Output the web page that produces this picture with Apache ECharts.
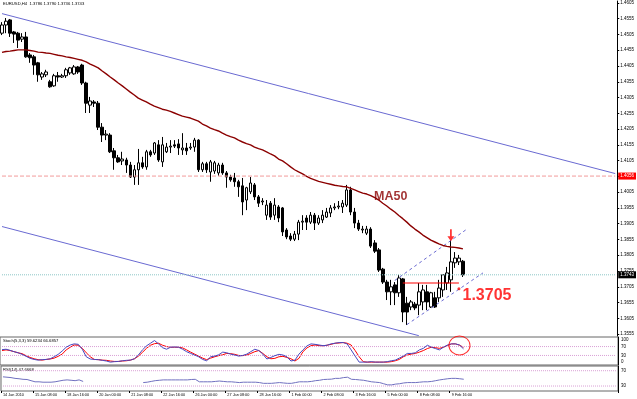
<!DOCTYPE html>
<html>
<head>
<meta charset="utf-8">
<title>EURUSD,H4</title>
<script src="https://cdn.jsdelivr.net/npm/echarts@6/dist/echarts.min.js"></script>
<style>
html, body { margin: 0; padding: 0; background: #fff; }
#chart { width: 637px; height: 399px; }
</style>
</head>
<body>
<div id="chart"></div>
<script>
// H4 bars, [open, close, low, high]
var candles = [
  [1.4509,1.4535,1.4503,1.4544],[1.4535,1.4547,1.4509,1.4557],[1.4551,1.4509,1.4497,1.4554],[1.4513,1.4506,1.4478,1.4516],
  [1.4509,1.4487,1.4462,1.4513],[1.4490,1.4497,1.4481,1.4509],[1.4497,1.4434,1.4431,1.4513],[1.4440,1.4431,1.4415,1.4446],
  [1.4434,1.4408,1.4377,1.4440],[1.4415,1.4377,1.4355,1.4418],[1.4370,1.4380,1.4361,1.4386],[1.4377,1.4386,1.4370,1.4393],
  [1.4355,1.4339,1.4336,1.4361],[1.4342,1.4374,1.4339,1.4380],[1.4374,1.4370,1.4355,1.4386],[1.4370,1.4374,1.4367,1.4380],
  [1.4374,1.4393,1.4367,1.4399],[1.4383,1.4399,1.4377,1.4402],[1.4380,1.4402,1.4377,1.4408],[1.4402,1.4386,1.4380,1.4405],
  [1.4408,1.4351,1.4345,1.4412],[1.4351,1.4287,1.4256,1.4355],[1.4281,1.4294,1.4256,1.4307],[1.4291,1.4287,1.4275,1.4297],
  [1.4287,1.4211,1.4202,1.4294],[1.4211,1.4186,1.4164,1.4224],[1.4186,1.4189,1.4170,1.4202],[1.4186,1.4133,1.4129,1.4192],
  [1.4136,1.4114,1.4076,1.4145],[1.4114,1.4101,1.4098,1.4123],[1.4104,1.4110,1.4091,1.4133],[1.4107,1.4091,1.4066,1.4114],
  [1.4091,1.4053,1.4050,1.4101],[1.4053,1.4076,1.4028,1.4091],[1.4076,1.4098,1.4028,1.4142],[1.4098,1.4085,1.4079,1.4117],
  [1.4085,1.4133,1.4076,1.4139],[1.4133,1.4123,1.4117,1.4139],[1.4129,1.4161,1.4123,1.4164],[1.4155,1.4107,1.4101,1.4170],
  [1.4101,1.4155,1.4085,1.4180],[1.4133,1.4148,1.4129,1.4161],[1.4148,1.4151,1.4129,1.4170],[1.4155,1.4151,1.4145,1.4170],
  [1.4158,1.4145,1.4123,1.4173],[1.4139,1.4145,1.4123,1.4192],[1.4145,1.4136,1.4123,1.4161],[1.4145,1.4148,1.4139,1.4161],
  [1.4148,1.4170,1.4133,1.4177],[1.4170,1.4076,1.4069,1.4173],[1.4076,1.4095,1.4069,1.4101],[1.4095,1.4076,1.4066,1.4101],
  [1.4069,1.4101,1.4038,1.4107],[1.4072,1.4098,1.4063,1.4104],[1.4066,1.4091,1.4057,1.4098],[1.4091,1.4066,1.4060,1.4098],
  [1.4066,1.4053,1.4019,1.4072],[1.4053,1.4044,1.4038,1.4060],[1.4050,1.4038,1.4022,1.4066],[1.4038,1.4022,1.3990,1.4044],
  [1.4025,1.3974,1.3932,1.4050],[1.3980,1.4019,1.3948,1.4022],[1.4006,1.4034,1.3999,1.4053],[1.4028,1.3990,1.3980,1.4034],
  [1.3990,1.3970,1.3958,1.3996],[1.3974,1.3977,1.3964,1.3986],[1.3932,1.3964,1.3917,1.3980],[1.3970,1.3926,1.3917,1.3977],
  [1.3932,1.3964,1.3917,1.3986],[1.3958,1.3923,1.3910,1.3964],[1.3955,1.3879,1.3866,1.3958],[1.3885,1.3863,1.3856,1.3891],
  [1.3866,1.3856,1.3850,1.3875],[1.3856,1.3872,1.3850,1.3882],[1.3872,1.3910,1.3853,1.3917],[1.3910,1.3913,1.3885,1.3932],
  [1.3923,1.3910,1.3885,1.3932],[1.3910,1.3932,1.3904,1.3942],[1.3932,1.3907,1.3885,1.3939],[1.3907,1.3923,1.3901,1.3932],
  [1.3917,1.3932,1.3907,1.3948],[1.3926,1.3942,1.3923,1.3955],[1.3939,1.3955,1.3926,1.3964],[1.3955,1.3958,1.3948,1.3970],
  [1.3958,1.3961,1.3951,1.3977],[1.3958,1.3970,1.3939,1.3980],[1.3964,1.4012,1.3958,1.4028],[1.4012,1.3942,1.3932,1.4022],
  [1.3942,1.3907,1.3891,1.3955],[1.3907,1.3888,1.3882,1.3917],[1.3885,1.3888,1.3875,1.3898],[1.3875,1.3888,1.3869,1.3898],
  [1.3888,1.3834,1.3828,1.3894],[1.3844,1.3818,1.3812,1.3853],[1.3822,1.3758,1.3752,1.3828],[1.3761,1.3720,1.3714,1.3765],
  [1.3720,1.3689,1.3663,1.3727],[1.3689,1.3705,1.3647,1.3727],[1.3711,1.3686,1.3647,1.3720],[1.3686,1.3733,1.3673,1.3743],
  [1.3730,1.3625,1.3593,1.3733],[1.3653,1.3625,1.3584,1.3673],[1.3641,1.3657,1.3631,1.3663],[1.3650,1.3638,1.3631,1.3657],
  [1.3647,1.3689,1.3615,1.3717],[1.3657,1.3695,1.3631,1.3711],[1.3689,1.3657,1.3631,1.3711],[1.3641,1.3686,1.3638,1.3689],
  [1.3670,1.3641,1.3638,1.3689],[1.3670,1.3701,1.3657,1.3727],[1.3695,1.3743,1.3673,1.3743],[1.3717,1.3749,1.3695,1.3768],
  [1.3727,1.3784,1.3689,1.3853],[1.3781,1.3796,1.3765,1.3815],[1.3784,1.3796,1.3774,1.3806],[1.3786,1.3743,1.3736,1.3790]
];

var ma50 = [
  1.4448,1.4451,1.4452,1.4454,1.4456,1.4456,1.4456,1.4454,1.4452,1.4449,
  1.4448,1.4446,1.4445,1.4442,1.4439,1.4437,1.4434,1.4432,1.4429,1.4426,
  1.4423,1.4418,1.4411,1.4405,1.4399,1.4389,1.4380,1.4370,1.4361,1.4351,
  1.4342,1.4332,1.4322,1.4313,1.4303,1.4297,1.4291,1.4284,1.4278,1.4273,
  1.4268,1.4265,1.4261,1.4256,1.4251,1.4246,1.4243,1.4240,1.4235,1.4230,
  1.4221,1.4215,1.4208,1.4203,1.4199,1.4192,1.4186,1.4181,1.4177,1.4170,
  1.4164,1.4159,1.4155,1.4148,1.4143,1.4139,1.4133,1.4126,1.4120,1.4110,
  1.4104,1.4095,1.4085,1.4076,1.4069,1.4063,1.4055,1.4049,1.4044,1.4039,
  1.4036,1.4033,1.4030,1.4027,1.4025,1.4023,1.4022,1.4017,1.4012,1.4007,
  1.4002,1.3999,1.3994,1.3988,1.3980,1.3970,1.3961,1.3951,1.3942,1.3931,
  1.3921,1.3910,1.3898,1.3888,1.3879,1.3869,1.3861,1.3853,1.3847,1.3841,
  1.3836,1.3833,1.3831,1.3830,1.3828,1.3825
];

var stochMain = [
  56,58,53,47,42,35,26,17,12,9,
  11,12,15,24,35,50,67,77,82,80,
  58,24,14,12,11,8,5,0,2,3,
  6,8,9,15,32,55,73,85,97,82,
  65,58,67,68,67,58,47,39,32,24,
  12,6,24,27,33,45,42,36,32,27,
  30,36,47,58,52,36,14,21,29,35,
  32,24,5,9,36,55,73,82,80,77,
  74,76,82,85,88,88,82,55,27,0,
  0,0,2,0,0,0,2,6,9,18,
  27,39,39,42,55,62,76,67,61,55,
  67,77,82,82,77,59.6234
];

var stochSignal = [
  52,55,52,47,42,38,29,21,15,11,
  9,12,14,18,26,36,55,67,77,76,
  62,42,24,12,11,9,8,5,3,3,
  5,6,9,15,27,44,62,76,83,85,
  76,70,67,67,67,64,55,45,36,27,
  18,11,18,24,29,33,39,38,35,30,
  29,32,39,47,52,39,24,15,17,24,
  26,21,15,5,17,47,64,74,77,74,
  73,76,80,85,86,88,85,77,52,24,
  2,0,0,0,0,0,0,2,6,12,
  24,32,36,39,45,52,61,67,65,62,
  67,74,82,82,76,66.6857
];

var rsi14 = [
  54,53,52,50,49,47.5,47,44,41,41,
  40,40,40,41,43,45,46,45,44,46,
  42,null,null,null,null,null,null,null,null,null,
  null,null,null,null,null,39,40,42,44,45,
  46,46,46,46,46,46,46,47,47.5,41,
  41,41,41,42,43,42,41,41,40,39,
  40,40,40,40,39,37,37,37,38,39,
  38,37,37,39,41,41,41,42,44,45,
  47,47.5,48,50,50,52,53,47.5,47,46,
  45,43,41,40,39,36,33,33,35,36,
  38,39,39,39,40,41,41,42,44,46,
  47.5,49,50,50,49,47.6668
];

// time labels, one every 8 bars
var dateLabels = ['14 Jan 2010','15 Jan 08:00','18 Jan 16:00','20 Jan 00:00','21 Jan 08:00','22 Jan 16:00',
  '26 Jan 00:00','27 Jan 08:00','28 Jan 16:00','1 Feb 00:00','2 Feb 08:00','3 Feb 16:00',
  '5 Feb 00:00','8 Feb 08:00','9 Feb 16:00'];
var barsPerLabel = 8;

var priceTicks = [1.3555,1.3605,1.3655,1.3705,1.3755,1.3805,1.3855,1.3905,1.3955,1.4005,1.4055,
  1.4105,1.4155,1.4205,1.4255,1.4305,1.4355,1.4405,1.4455,1.4505,1.4555,1.4605];
var stochTicks = [0, 30, 70, 100];
var stochLevels = [70, 30];
var rsiTicks = [30, 70];
var rsiLevels = [70, 30];

// drawn objects, points as [bar, price]
var resistLevel = 1.4056;
var lastPrice = 1.3743;
var channelUpper = [[0, 1.4571], [153, 1.4064]];
var channelLower = [[0, 1.3896], [104, 1.3550]];
var flagUpper = [[98, 1.3725], [116, 1.3888]];
var flagLower = [[101, 1.3585], [120, 1.3749]];
var supportLine = [[100, 1.3717], [114, 1.3717]];
var supportDot = [[114, 1.3699]];
var supportText = [[121, 1.3676, '1.3705']];
var maText = [[97, 1.3992, 'MA50']];
var arrowAt = [[112, 1.3868]];
var stochCircle = [[114, 75]];

var slots = 154; // bars plus the empty shift on the right
var cats = [];
for (var i = 0; i < slots; i++) cats.push(String(i));

var FONT = 'Liberation Sans';

function labelFor(idx) {
  if (idx % barsPerLabel !== 0) return '';
  return dateLabels[idx / barsPerLabel] || '';
}

function hiddenX(gi) {
  return {
    type: 'category', gridIndex: gi, data: cats, boundaryGap: true,
    axisLine: { show: false }, axisTick: { show: false }, axisLabel: { show: false }, splitLine: { show: false }
  };
}

function seg(data, color, type, axis) {
  return {
    type: 'line', xAxisIndex: axis || 0, yAxisIndex: axis || 0, data: data, symbol: 'none', silent: true,
    lineStyle: { color: color, width: 1, type: type || 'solid' }, z: 3
  };
}

// full-width horizontal level
function level(v, axis, color, type) {
  return seg([[0, v], [slots - 1, v]], color, type, axis);
}

function priceTag(v, bg) {
  var s = level(v, 0, bg === '#000' ? '#8cc6c6' : '#f29a9a', bg === '#000' ? 'dotted' : 'dashed');
  s.z = 6;
  s.endLabel = { show: true, distance: 3, formatter: v.toFixed(4), backgroundColor: bg, color: '#fff',
    fontSize: 4.5, padding: [1, 2], fontFamily: FONT };
  return s;
}

function textMark(data, color, size, axis) {
  return {
    type: 'scatter', xAxisIndex: axis || 0, yAxisIndex: axis || 0, data: data, symbolSize: 0, silent: true, z: 8,
    label: { show: true, position: 'inside', color: color, fontSize: size, fontWeight: 'bold', fontFamily: FONT,
      formatter: function (p) { return p.value[2]; } }
  };
}

var chart = echarts.init(document.getElementById('chart'), null, { renderer: 'canvas' });

var series = [
  {
    name: 'EURUSD', type: 'candlestick', xAxisIndex: 0, yAxisIndex: 0, data: candles,
    barWidth: 3,
    itemStyle: { color: '#fff', color0: '#000', borderColor: '#000', borderColor0: '#000', borderWidth: 1 },
    z: 2
  },
  {
    name: 'MA50', type: 'line', xAxisIndex: 0, yAxisIndex: 0, data: ma50, symbol: 'none', silent: true,
    lineStyle: { color: '#8b0000', width: 1.4 }, z: 4
  },
  priceTag(resistLevel, '#ff0000'),
  priceTag(lastPrice, '#000'),
  seg(channelUpper, '#6a6ad2'),
  seg(channelLower, '#6a6ad2'),
  seg(flagUpper, '#6a6ad2', [3, 3]),
  seg(flagLower, '#6a6ad2', [3, 3]),
  seg(supportLine, '#ff0000'),
  {
    type: 'scatter', xAxisIndex: 0, yAxisIndex: 0, data: supportDot, symbol: 'circle', symbolSize: 3,
    itemStyle: { color: '#ff0000' }, silent: true, z: 8
  },
  {
    type: 'scatter', xAxisIndex: 0, yAxisIndex: 0, data: arrowAt, silent: true, z: 8,
    symbol: 'path://M3,0 L5,0 L5,7 L8,7 L4,12 L0,7 L3,7 Z', symbolSize: [7, 12],
    itemStyle: { color: '#ff0000' }
  },
  textMark(supportText, '#ff0000', 16),
  textMark(maText, '#8b0000', 12.5),
  {
    name: 'Stoch main', type: 'line', xAxisIndex: 1, yAxisIndex: 1, data: stochMain, symbol: 'none', silent: true,
    lineStyle: { color: '#4848c0', width: 1 }, z: 4
  },
  {
    name: 'Stoch signal', type: 'line', xAxisIndex: 1, yAxisIndex: 1, data: stochSignal, symbol: 'none', silent: true,
    lineStyle: { color: '#ff0000', width: 1 }, z: 3
  },
  {
    type: 'scatter', xAxisIndex: 1, yAxisIndex: 1, data: stochCircle, symbol: 'circle', symbolSize: [21, 19],
    itemStyle: { color: 'rgba(0,0,0,0)', borderColor: '#ff0000', borderWidth: 1 }, silent: true, z: 8
  },
  {
    name: 'RSI', type: 'line', xAxisIndex: 2, yAxisIndex: 2, data: rsi14, symbol: 'none', silent: true,
    connectNulls: false, lineStyle: { color: '#7070c0', width: 1 }, z: 4
  }
];
stochLevels.forEach(function (v) { series.push(level(v, 1, '#d9a0d6', 'dotted')); });
rsiLevels.forEach(function (v) { series.push(level(v, 2, '#d9a0d6', 'dotted')); });

var option = {
  animation: false,
  backgroundColor: '#fff',
  textStyle: { fontFamily: FONT },
  grid: [
    { left: 0, top: 1, width: 618, height: 335 },
    { left: 0, top: 337, width: 618, height: 28, show: true, borderColor: '#666', borderWidth: 1 },
    { left: 0, top: 366, width: 618, height: 25, show: true, borderColor: '#666', borderWidth: 1 }
  ],
  xAxis: [
    hiddenX(0),
    hiddenX(1),
    {
      type: 'category', gridIndex: 2, data: cats, boundaryGap: true,
      axisLine: { show: false },
      axisTick: { show: true, length: 2, lineStyle: { color: '#000' }, interval: function (idx) { return labelFor(idx) !== ''; } },
      axisLabel: {
        show: true, interval: function (idx) { return labelFor(idx) !== ''; },
        formatter: function (v, idx) { return labelFor(idx); },
        fontSize: 3.8, color: '#000', align: 'left', margin: 2, fontFamily: FONT
      },
      splitLine: { show: false }
    }
  ],
  yAxis: [
    {
      type: 'value', gridIndex: 0, position: 'right', min: 1.3549, max: 1.4611,
      splitLine: { show: false },
      axisLine: { show: true, lineStyle: { color: '#000' } },
      axisTick: { show: true, length: 2, customValues: priceTicks, lineStyle: { color: '#000' } },
      axisLabel: { customValues: priceTicks, fontSize: 4.5, color: '#000', margin: 3, fontFamily: FONT,
        formatter: function (v) { return v.toFixed(4); } }
    },
    {
      type: 'value', gridIndex: 1, position: 'right', min: -13, max: 113,
      splitLine: { show: false },
      axisLine: { show: true, lineStyle: { color: '#000' } },
      axisTick: { show: false },
      axisLabel: { customValues: stochTicks, fontSize: 4.5, color: '#000', margin: 3, fontFamily: FONT }
    },
    {
      type: 'value', gridIndex: 2, position: 'right', min: 17, max: 82.3,
      splitLine: { show: false },
      axisLine: { show: true, lineStyle: { color: '#000' } },
      axisTick: { show: false },
      axisLabel: { customValues: rsiTicks, fontSize: 4.5, color: '#000', margin: 3, fontFamily: FONT }
    }
  ],
  series: series,
  graphic: [
    { type: 'text', left: 3, top: 2, style: { text: 'EURUSD,H4  1.3786 1.3790 1.3736 1.3743', font: '4.2px ' + FONT, fill: '#000' } },
    { type: 'text', left: 3, top: 339, style: { text: 'Stoch(5,3,3) 59.6234 66.6857', font: '4.2px ' + FONT, fill: '#000' } },
    { type: 'text', left: 3, top: 368, style: { text: 'RSI(14) 47.6668', font: '4.2px ' + FONT, fill: '#000' } }
  ]
};

chart.setOption(option);
</script>
</body>
</html>
